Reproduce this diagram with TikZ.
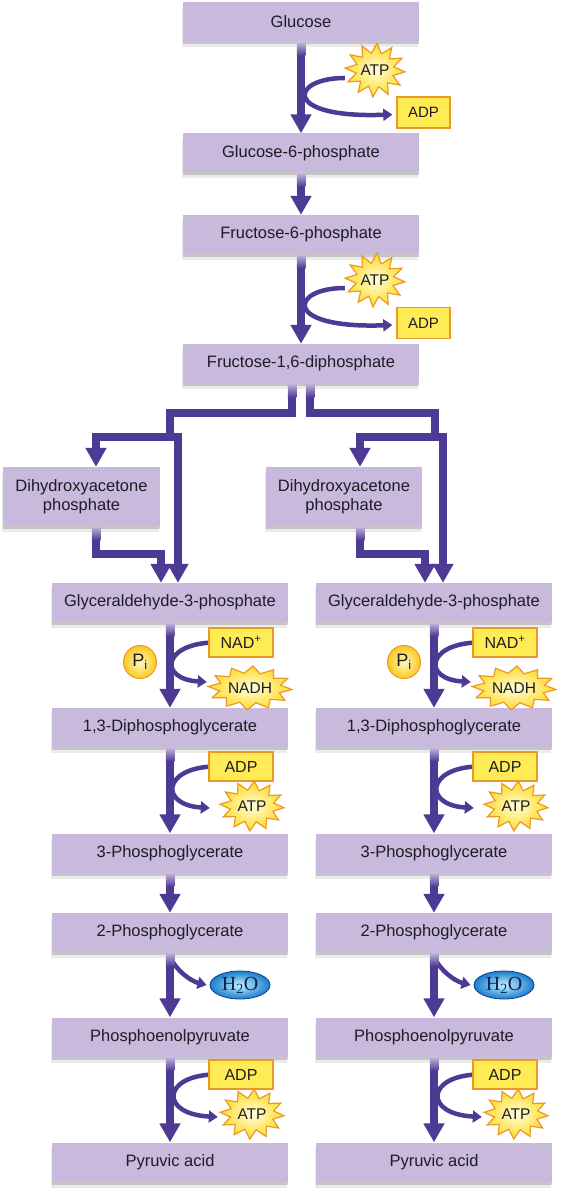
\documentclass[tikz,border=0pt]{standalone}
\usepackage{fontspec}
\setmainfont{Liberation Sans}
\newfontfamily\waterfont{Liberation Serif}
\usetikzlibrary{arrows.meta,shapes.geometric,shadows,calc}
\pgfdeclarelayer{bgw}
\pgfdeclarelayer{back}
\pgfsetlayers{bgw,back,main}
\definecolor{boxc}{RGB}{201,186,221}
\definecolor{arrc}{RGB}{76,58,148}
\definecolor{txtc}{RGB}{30,28,36}
\definecolor{yelc}{RGB}{255,236,85}
\definecolor{orac}{RGB}{236,152,36}
\definecolor{starin}{RGB}{255,253,220}
\definecolor{starout}{RGB}{255,220,40}
\definecolor{pin}{RGB}{255,250,190}
\definecolor{pout}{RGB}{250,200,30}
\definecolor{waterc}{RGB}{25,125,205}
\definecolor{waterin}{RGB}{195,242,255}
\definecolor{waterline}{RGB}{20,60,140}
\definecolor{watertxt}{RGB}{15,30,80}
\tikzset{
 softshadow/.style={drop shadow={shadow xshift=0pt,shadow yshift=-3pt,opacity=.16,fill=black},
                    drop shadow={shadow xshift=-1pt,shadow yshift=-6pt,opacity=.08,fill=black}},
 stepbox/.style={rectangle,fill=boxc,minimum width=236pt,minimum height=39pt,inner sep=0pt,
   align=center,text=txtc,font=\fontsize{16.5}{19.5}\selectfont,softshadow},
 flow/.style={draw=arrc,line width=8.5pt,line join=miter,-{Triangle[length=19pt,width=20pt]}},
 side/.style={draw=arrc,line width=4.5pt,-{Triangle[length=9pt,width=12pt]}},
 yelbox/.style={rectangle,fill=yelc,draw=orac,line width=1.4pt,inner sep=0pt,text=txtc},
 smallbox/.style={yelbox,minimum width=64pt,minimum height=29pt,font=\fontsize{16}{18}\selectfont},
 topbox/.style={yelbox,minimum width=53pt,minimum height=31pt,font=\fontsize{15}{17}\selectfont},
 burstsh/.style={inner color=starin,outer color=starout,draw=orac,line width=1.2pt,line join=miter},
 burstnode/.style={ellipse,inner sep=0pt,text=txtc,font=\fontsize{15.5}{17}\selectfont},
 picirc/.style={circle,minimum size=33pt,inner sep=0pt,inner color=pin,outer color=pout,draw=orac,
   line width=1pt,text=txtc,font=\fontsize{18}{20}\selectfont},
 water/.style={ellipse,minimum width=60pt,minimum height=28pt,inner sep=0pt,inner color=waterin,
   outer color=waterc,draw=waterline,line width=.8pt,text=watertxt,font=\waterfont\fontsize{20}{22}\selectfont},
}
\newcommand\burst[8]{%
  \path[burstsh,shift={(#2,#3)}] plot[samples at={0,...,23}]
    ({cos(\x*15+4)*(mod(\x,2)==0?#4:#6)},{sin(\x*15+4)*(mod(\x,2)==0?#5:#7)}) -- cycle;
  \node[burstnode,minimum width=2*#4,minimum height=2*#5] (#1) at (#2,#3) {#8};}
\newcommand\fadeat[1]{\shade[top color=boxc,bottom color=arrc] ($(#1)+(-4.25,0)$) rectangle ++(8.5,14);}
\begin{document}
\begin{tikzpicture}[x=1pt,y=-1pt]
\path[use as bounding box] (0,0) rectangle (568,1193);
\begin{pgfonlayer}{bgw}
\fill[white] (0,0) rectangle (568,1193);
\end{pgfonlayer}
% main boxes
\node[stepbox] (glc) at (301,22) {Glucose};
\node[stepbox] (g6p) at (301,153) {Glucose-6-phosphate};
\node[stepbox] (f6p) at (301,234.5) {Fructose-6-phosphate};
\node[stepbox] (f16) at (301,363.5) {Fructose-1,6-diphosphate};
\node[stepbox,minimum width=157pt,minimum height=59pt] (dhapL) at (81.5,496.5) {Dihydroxyacetone\\phosphate};
\node[stepbox,minimum width=156pt,minimum height=59pt] (dhapR) at (344,496.5) {Dihydroxyacetone\\phosphate};
\foreach \s/\cx in {L/170,R/434}{
  \node[stepbox] (g3p\s) at (\cx,602.5) {Glyceraldehyde-3-phosphate};
  \node[stepbox] (dpg\s) at (\cx,727.5) {1,3-Diphosphoglycerate};
  \node[stepbox] (pg3\s) at (\cx,853) {3-Phosphoglycerate};
  \node[stepbox] (pg2\s) at (\cx,932.5) {2-Phosphoglycerate};
  \node[stepbox] (pep\s) at (\cx,1037) {Phosphoenolpyruvate};
  \node[stepbox] (pyr\s) at (\cx,1162) {Pyruvic acid};
}
% main flow arrows
\foreach \a/\b in {glc/g6p,g6p/f6p,f6p/f16}{\draw[flow] (\a.south) -- (\b.north);}
\foreach \s in {L,R}{
  \foreach \a/\b in {g3p/dpg,dpg/pg3,pg3/pg2,pg2/pep,pep/pyr}{\draw[flow] (\a\s.south) -- (\b\s.north);}
}
% split
\coordinate (L1) at (170,413); \coordinate (L2) at (96,437); \coordinate (L3) at (178,433);
\coordinate (L4) at (96,554); \coordinate (L5) at (161,554);
\coordinate (R1) at (435,413); \coordinate (R2) at (360,437); \coordinate (R3) at (443,433);
\coordinate (R4) at (360,554); \coordinate (R5) at (425,554);
\draw[flow] ([xshift=-9pt]f16.south) |- (L1) |- (L2) -- (L2 |- dhapL.north);
\draw[flow] (L3) -- (L3 |- g3pL.north);
\draw[flow] (L4 |- dhapL.south) |- (L5) -- (L5 |- g3pL.north);
\draw[flow] ([xshift=9pt]f16.south) |- (R1) |- (R2) -- (R2 |- dhapR.north);
\draw[flow] (R3) -- (R3 |- g3pR.north);
\draw[flow] (R4 |- dhapR.south) |- (R5) -- (R5 |- g3pR.north);
% fades
\foreach \a in {glc,g6p,f6p}{\fadeat{\a.south}}
\foreach \s in {L,R}{\foreach \a in {g3p,dpg,pg3,pg2,pep}{\fadeat{\a\s.south}}}
\fadeat{[xshift=-9pt]f16.south}
\fadeat{[xshift=9pt]f16.south}
\fadeat{L4 |- dhapL.south}
\fadeat{R4 |- dhapR.south}
% side substances
\burst{atp1}{375}{70}{30}{27}{19}{17}{ATP}
\node[topbox] (adp1) at (423.5,112.5) {ADP};
\burst{atp2}{375}{280}{30}{27}{19}{17}{ATP}
\node[topbox] (adp2) at (423.5,323) {ADP};
\foreach \s/\cx in {L/170,R/434}{
  \node[smallbox] (nad\s) at (\cx+71,642.5) {NAD\textsuperscript{+}};
  \node[picirc] (pi\s) at (\cx-30,662) {P\textsubscript{i}};
  \burst{nadh\s}{\cx+80}{688}{42}{22}{31}{15}{NADH}
  \node[smallbox] (adpa\s) at (\cx+71,766.5) {ADP};
  \burst{atpa\s}{\cx+82}{806}{32}{25}{22}{16}{ATP}
  \node[water] (h2o\s) at (\cx+70,985) {H\textsubscript{2}O};
  \node[smallbox] (adpb\s) at (\cx+71,1074.5) {ADP};
  \burst{atpb\s}{\cx+82}{1114}{32}{25}{22}{16}{ATP}
}
% side curves (behind)
\begin{pgfonlayer}{back}
\draw[side] ([yshift=-8pt]atp1.west) .. controls +(-55,0) and +(-111,4) .. ([xshift=-4pt,yshift=-2pt]adp1.west);
\draw[side] ([yshift=-8pt]atp2.west) .. controls +(-55,0) and +(-111,4) .. ([xshift=-4pt,yshift=-2pt]adp2.west);
\foreach \s in {L,R}{
  \draw[side] ([xshift=4pt]nad\s.west) .. controls +(-50,2) and +(-48,-3) .. ([xshift=-1pt,yshift=6pt]nadh\s.west);
  \draw[side] ([xshift=4pt]adpa\s.west) .. controls +(-50,2) and +(-50,-3) .. ([xshift=-10pt,yshift=-2pt]atpa\s.west);
  \draw[side] ([xshift=1pt,yshift=-6pt]pg2\s.south) .. controls +(5,12) and +(-16,-4) .. ([xshift=-3pt]h2o\s.west);
  \draw[side] ([xshift=4pt]adpb\s.west) .. controls +(-50,2) and +(-58,-3) .. ([xshift=-2pt,yshift=-3pt]atpb\s.west);
}
\end{pgfonlayer}
\end{tikzpicture}
\end{document}
